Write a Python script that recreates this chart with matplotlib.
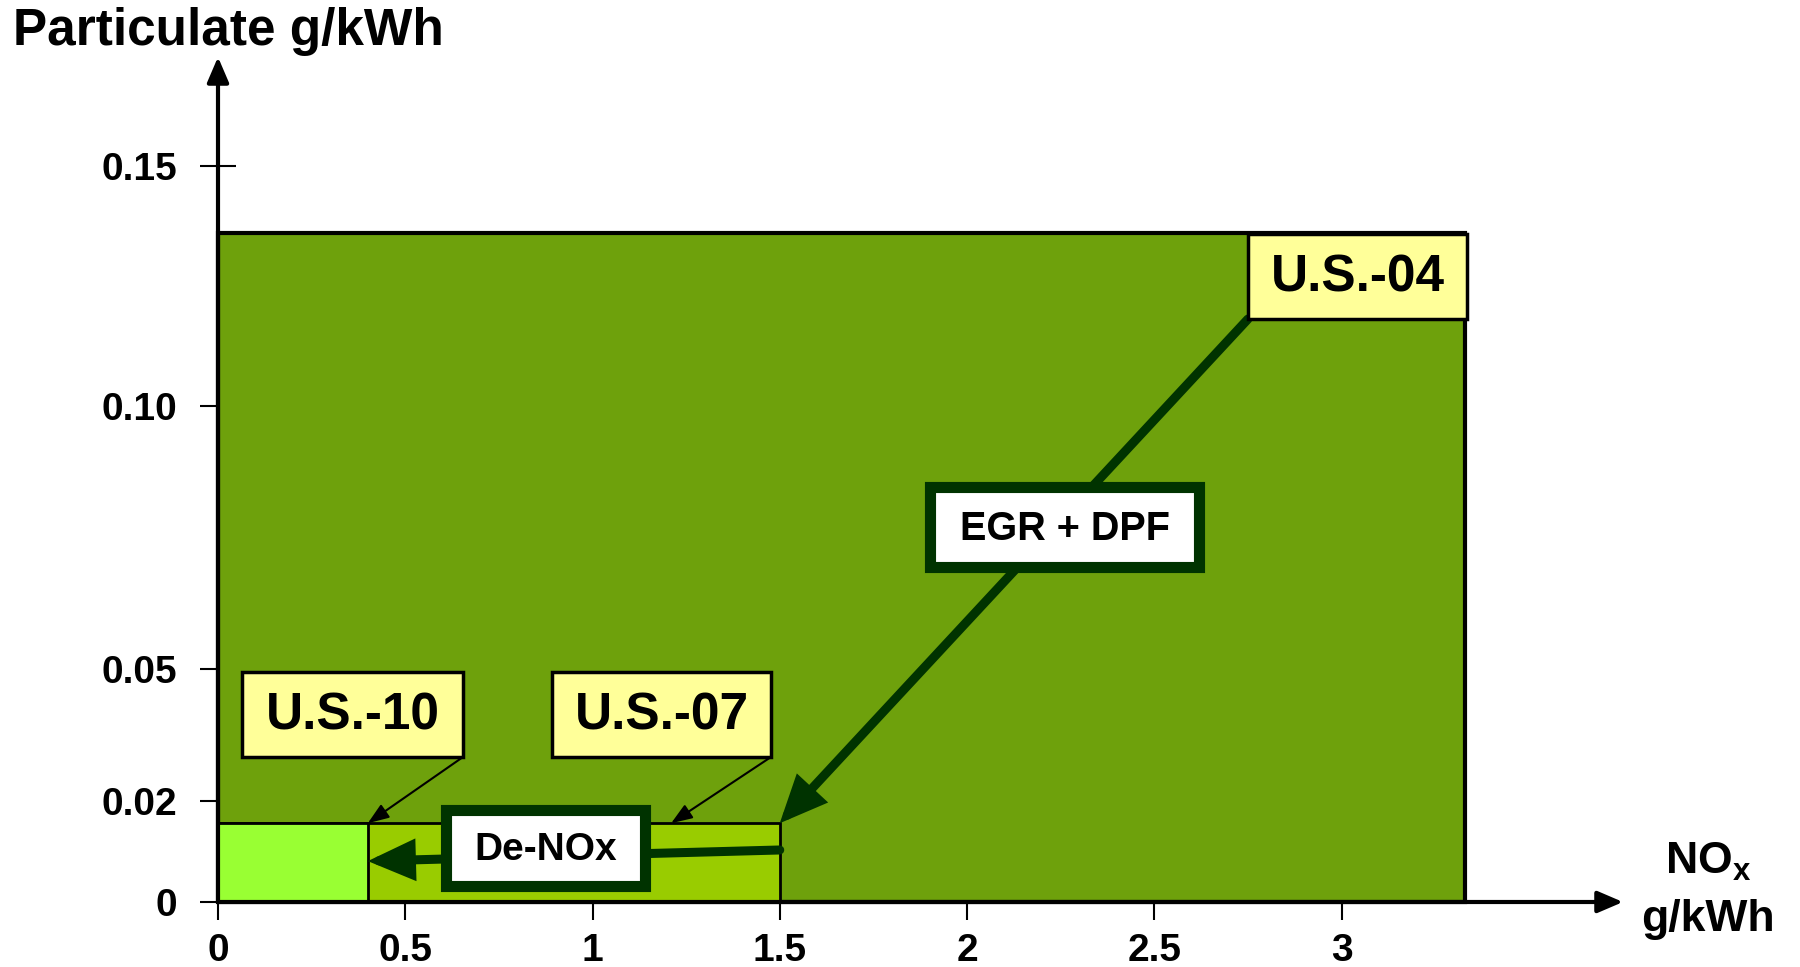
import matplotlib
matplotlib.use('Agg')
import matplotlib.pyplot as plt
import numpy as np
from matplotlib.patches import Rectangle

plt.rcParams['font.family'] = ['Liberation Sans', 'DejaVu Sans']
plt.rcParams['font.weight'] = 'bold'
plt.rcParams['mathtext.fontset'] = 'custom'
plt.rcParams['mathtext.bf'] = 'Liberation Sans:bold'
plt.rcParams['mathtext.rm'] = 'Liberation Sans:bold'

# emission limits (NOx, particulate), g/kWh
standards = ['U.S.-04', 'U.S.-07', 'U.S.-10']
nox_limit = [3.33, 1.5, 0.4]
pm_limit = [0.136, 0.0156, 0.0156]

x_ticks = [0, 0.5, 1, 1.5, 2, 2.5, 3]
x_tick_labels = ['0', '0.5', '1', '1.5', '2', '2.5', '3']
y_ticks = [0, 0.02, 0.05, 0.10, 0.15]
y_tick_labels = ['0', '0.02', '0.05', '0.10', '0.15']

W, H = 1800, 967


def fr(x, y):
    # pixel position -> axes fraction (axes covers whole figure)
    return x / W, 1 - y / H


# the original y axis is schematic: ticks are not evenly spaced
y_tick_px = [0, 101, 233, 496, 736]
yv = [-1.0] + y_ticks + [1.15]
yp = [-5050] + y_tick_px + [736 + 4800]
fwd = lambda v: np.interp(v, yv, yp)
inv = lambda p: np.interp(p, yp, yv)

fig = plt.figure(figsize=(18, 9.67), dpi=100)
ax = fig.add_axes([0, 0, 1, 1])
ax.set_yscale('function', functions=(fwd, inv))
x_unit = 374.5
ax.set_xlim(-218 / x_unit, (W - 218) / x_unit)
ax.set_ylim(float(inv(-65)), float(inv(902)))

for s in ['top', 'right']:
    ax.spines[s].set_visible(False)
ax.spines['left'].set_position(('data', 0))
ax.spines['bottom'].set_position(('data', 0))
ax.spines['left'].set_visible(False)
ax.spines['bottom'].set_visible(False)
ax.set_facecolor('none')

ax.set_xticks(x_ticks, labels=x_tick_labels)
ax.set_yticks(y_ticks, labels=y_tick_labels)
ax.minorticks_off()
ax.tick_params(direction='inout', length=26.5, width=1.5, labelsize=28, color='black')
ax.tick_params(axis='x', pad=9)
ax.tick_params(axis='y', pad=16)
ax.set_axisbelow(True)

# limit boxes
colors = ['#6EA10C', '#99CC00', '#99FF33']
edge_lw = [3, 2, 2]
for i in range(len(standards)):
    ax.bar(0, pm_limit[i], width=nox_limit[i], align='edge', color=colors[i],
           edgecolor='black', lw=edge_lw[i], zorder=2 + i * 0.1)

# axis arrows
x_tip = (1623 - 218) / x_unit
y_tip = float(inv(902 - 57))
arr = dict(arrowstyle='-|>,head_length=0.7,head_width=0.3', color='black', lw=3,
           mutation_scale=22, shrinkA=0, shrinkB=0)
ax.annotate('', xy=(x_tip, 0), xytext=(0, 0), arrowprops=arr, zorder=3)
ax.annotate('', xy=(0, y_tip), xytext=(0, 0), arrowprops=arr, zorder=3)

# yellow labels
label_box = {
    'U.S.-04': (1248, 234, 1467, 319),
    'U.S.-07': (552, 672, 771, 757),
    'U.S.-10': (242, 672, 463, 757),
}
for name in standards:
    x0, y0, x1, y1 = label_box[name]
    fx, fy = fr(x0, y1)
    ax.add_patch(Rectangle((fx, fy), (x1 - x0) / W, (y1 - y0) / H, transform=ax.transAxes,
                           fc='#FFFF99', ec='black', lw=2.5, zorder=5))
    ax.text(*fr((x0 + x1) / 2, (y0 + y1) / 2 + 2), name, transform=ax.transAxes,
            ha='center', va='center', fontsize=37, zorder=6)

thin = dict(arrowstyle='-|>,head_length=0.8,head_width=0.3', color='black', lw=1.5,
            mutation_scale=16, shrinkA=0, shrinkB=0)
ax.annotate('', xy=(nox_limit[2], pm_limit[2]), xycoords='data',
            xytext=fr(463, 757), textcoords='axes fraction', arrowprops=thin, zorder=4)
ax.annotate('', xy=(1.21, pm_limit[1]), xycoords='data',
            xytext=fr(771, 757), textcoords='axes fraction', arrowprops=thin, zorder=4)

# technology arrows
dark = '#003300'
thick = dict(arrowstyle='-|>,head_length=0.9,head_width=0.4', color=dark, lw=6.5,
             mutation_scale=26, shrinkA=0, shrinkB=0, joinstyle='miter')
ax.annotate('', xy=(nox_limit[1], pm_limit[1]), xycoords='data',
            xytext=fr(1248, 319), textcoords='axes fraction', arrowprops=thick, zorder=4)
ax.annotate('', xy=(nox_limit[2], 0.0081), xycoords='data',
            xytext=(nox_limit[1], 0.0103), textcoords='data', arrowprops=thick, zorder=4)

tech_box = {
    'EGR + DPF': (930, 487, 1199, 567, 28.5),
    'De-NOx': (446, 810, 645, 886, 28),
}
for name, (x0, y0, x1, y1, fs) in tech_box.items():
    fx, fy = fr(x0, y1)
    ax.add_patch(Rectangle((fx, fy), (x1 - x0) / W, (y1 - y0) / H, transform=ax.transAxes,
                           fc='white', ec=dark, lw=8, zorder=7))
    ax.text(*fr((x0 + x1) / 2, (y0 + y1) / 2 + 2), name, transform=ax.transAxes,
            ha='center', va='center', fontsize=fs, zorder=8)

# axis titles
fig.text(13 / W, 1 - 32 / H, 'Particulate g/kWh', fontsize=37, ha='left', va='center')
ax.text(*fr(1708, 862), r'NO$_\mathbf{x}$', transform=ax.transAxes,
        ha='center', va='center', fontsize=32)
ax.text(*fr(1708, 920), 'g/kWh', transform=ax.transAxes,
        ha='center', va='center', fontsize=32)

fig.savefig('out.png', dpi=100)
